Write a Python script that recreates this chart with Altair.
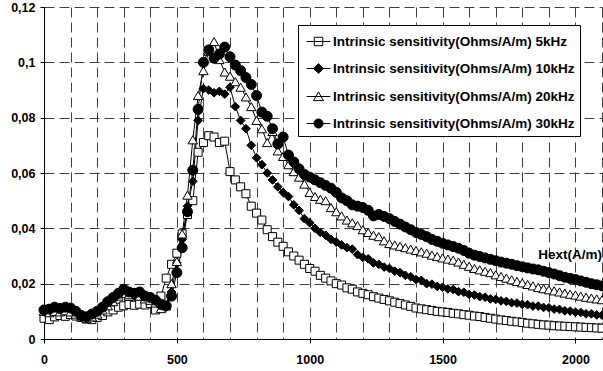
import altair as alt
import pandas as pd

# ---------------- data ----------------
hext = list(range(0, 2101, 20))

series_names = [
    "Intrinsic sensitivity(Ohms/A/m) 5kHz",
    "Intrinsic sensitivity(Ohms/A/m) 10kHz",
    "Intrinsic sensitivity(Ohms/A/m) 20kHz",
    "Intrinsic sensitivity(Ohms/A/m) 30kHz",
]

# values in 1e-3 Ohms/(A/m)
s5 = [
    7.5, 7.0, 8.0, 8.5, 8.2, 8.8, 8.3, 7.8, 7.2, 7.0,
    7.8, 8.5, 9.8, 10.5, 11.5, 12.0, 12.5, 12.2, 12.6, 12.3,
    12.8, 10.5, 15.5, 22.0, 27.0, 31.0, 38.0, 45.0, 50.0, 67.5,
    71.0, 73.5, 73.0, 71.0, 71.5, 60.5, 57.5, 55.0, 52.5, 48.0,
    45.5, 43.0, 39.5, 37.0, 35.0, 33.5, 31.5, 30.0, 28.5, 27.0,
    25.5, 24.5, 23.0, 22.0, 21.0, 20.0, 19.5, 18.5, 18.0, 17.0,
    16.5, 16.0, 15.3, 14.8, 14.3, 13.8, 13.3, 12.8, 12.3, 11.8,
    11.2, 10.9, 10.6, 10.3, 10.0, 9.8, 9.6, 9.3, 9.1, 8.8,
    8.6, 8.3, 8.1, 7.8, 7.5, 7.2, 6.9, 6.7, 6.4, 6.2,
    6.0, 5.7, 5.5, 5.3, 5.1, 5.0, 4.8, 4.7, 4.6, 4.5,
    4.4, 4.3, 4.2, 4.1, 4.0, 3.9,
]
s10 = [
    10.5, 10.0, 11.0, 10.5, 11.2, 10.8, 10.2, 8.8, 8.0, 8.5,
    9.5, 11.0, 13.0, 14.5, 16.0, 17.5, 16.5, 15.5, 16.0, 15.0,
    14.5, 13.5, 12.0, 11.5, 17.0, 27.5, 36.0, 48.0, 57.0, 79.0,
    90.5, 90.0, 89.0, 89.5, 88.5, 91.0, 84.0, 79.0, 76.0, 70.0,
    65.5, 63.0, 60.0, 57.5, 55.0, 53.0, 51.5, 48.5, 46.5, 43.5,
    42.0, 40.0, 38.5, 37.5, 36.0, 35.0, 34.0, 33.0, 32.5, 30.5,
    29.5, 29.0, 27.5, 27.0, 26.0, 25.5, 24.5, 24.0, 23.0, 22.5,
    21.5, 21.2, 20.0, 19.8, 19.0, 18.7, 18.1, 17.9, 17.1, 16.9,
    16.1, 15.9, 15.3, 15.1, 14.5, 14.3, 13.8, 13.6, 13.1, 13.0,
    12.5, 12.4, 11.9, 11.9, 11.4, 11.3, 10.8, 10.7, 10.2, 10.1,
    9.7, 9.6, 9.1, 9.1, 8.7, 8.6,
]
s20 = [
    10.0, 9.5, 10.0, 9.8, 10.2, 9.8, 9.0, 8.0, 7.5, 8.0,
    9.0, 10.5, 12.0, 13.5, 15.5, 16.5, 16.0, 17.0, 15.5, 14.5,
    14.0, 13.0, 11.0, 12.0, 20.0, 28.0, 38.0, 52.0, 72.0, 88.0,
    97.0, 104.0, 107.5, 101.0, 96.5, 95.0, 93.0, 91.0, 87.5, 84.0,
    79.0, 76.0, 71.0, 75.0, 68.0, 66.0, 63.0, 60.5, 58.5, 56.0,
    53.0, 51.5, 50.5, 50.0, 47.5, 46.0, 44.5, 43.0, 42.0, 41.0,
    39.5, 38.5, 37.5, 37.0, 35.5, 34.5, 34.0, 33.5, 33.0, 32.5,
    32.0, 31.5, 31.0, 30.3, 29.8, 29.3, 28.9, 28.5, 27.8, 27.0,
    26.3, 25.5, 25.0, 24.5, 24.0, 23.2, 22.6, 22.0, 21.4, 20.8,
    20.3, 19.7, 19.2, 18.6, 18.2, 17.8, 17.4, 17.0, 16.6, 16.2,
    15.9, 15.5, 15.1, 14.8, 14.5, 14.2,
]
s30 = [
    10.5, 10.8, 11.5, 11.0, 11.5, 11.2, 10.0, 8.5, 8.0, 9.0,
    10.0, 11.5, 13.5, 15.0, 16.5, 18.0, 17.0, 16.5, 17.0, 15.5,
    15.0, 14.0, 12.5, 12.0, 15.5, 24.0, 33.0, 46.0, 61.0, 83.0,
    100.0, 104.5, 101.5, 103.0, 105.5, 102.0, 99.0, 97.0, 94.5, 92.0,
    88.0, 82.0, 80.5, 76.0, 70.5, 73.0, 66.5, 64.0, 61.5, 59.5,
    58.5, 57.5, 56.5, 55.5, 54.5, 53.0, 51.0, 50.0, 48.5, 48.0,
    47.5, 46.5, 44.5, 45.0, 44.3, 43.5, 42.5, 41.5, 40.5, 39.5,
    38.5, 37.8, 37.0, 36.0, 35.3, 34.6, 34.0, 33.4, 32.8, 32.0,
    31.0, 30.3, 29.8, 29.3, 28.8, 28.3, 27.8, 27.4, 27.0, 26.5,
    26.1, 25.7, 25.3, 25.0, 24.5, 24.0, 23.5, 22.9, 22.3, 21.9,
    21.5, 21.0, 20.5, 20.0, 19.6, 19.2,
]

x_ticks = list(range(0, 2101, 100))
y_ticks = [0, 0.02, 0.04, 0.06, 0.08, 0.1, 0.12]
annotation_text = ["Hext(A/m)"]
annotation_x = [2100]
annotation_y = [0.0305]

# ---------------- styles ----------------
marker_shapes = ["square", "diamond", "triangle-up", "circle"]
marker_fills = ["white", "black", "white", "black"]
marker_strokes = ["black", "black", "black", "black"]
marker_sizes = [64, 100, 90, 72]
legend_paths = [
    "M-1.1,0H1.1M-0.39,-0.39H0.39V0.39H-0.39Z",
    "M-1.1,0H1.1M0,-0.45L0.45,0L0,0.45L-0.45,0Z",
    "M-1.1,0H1.1M0,-0.42L0.46,0.38L-0.46,0.38Z",
    "M-1.1,0H1.1M-0.42,0A0.42,0.42,0,1,0,0.42,0A0.42,0.42,0,1,0,-0.42,0Z",
]
FONT = "Liberation Sans"

rows = []
for name, vals in zip(series_names, [s5, s10, s20, s30]):
    for hv, sv in zip(hext, vals):
        rows.append({"H": hv, "S": sv / 1000.0, "series": name})
df = pd.DataFrame(rows)

ann = pd.DataFrame({"t": annotation_text, "H": annotation_x, "S": annotation_y})

x_enc = alt.X(
    "H:Q",
    title=None,
    scale=alt.Scale(domain=[0, 2100], nice=False, zero=False),
    axis=alt.Axis(
        values=x_ticks,
        labelExpr="datum.value % 500 === 0 ? format(datum.value, 'd') : ''",
        tickOpacity={"condition": {"test": "datum.value % 500 === 0", "value": 1}, "value": 0},
        tickSize=4,
        labelPadding=10,
        labelFlush=False,
    ),
)
y_enc = alt.Y(
    "S:Q",
    title=None,
    scale=alt.Scale(domain=[0, 0.12], nice=False),
    axis=alt.Axis(
        values=y_ticks,
        labelExpr="replace(format(datum.value, '.2~f'), '.', ',')",
        tickSize=4,
        labelPadding=5,
    ),
)

lines = alt.Chart(df).mark_line(color="black", strokeWidth=1).encode(
    x=x_enc, y=y_enc, detail="series:N"
)

points = alt.Chart(df).mark_point(filled=True, stroke="black", strokeWidth=1, opacity=1).encode(
    x=x_enc,
    y=y_enc,
    shape=alt.Shape("series:N", scale=alt.Scale(domain=series_names, range=marker_shapes), legend=None),
    fill=alt.Fill("series:N", scale=alt.Scale(domain=series_names, range=marker_fills), legend=None),
    size=alt.Size("series:N", scale=alt.Scale(domain=series_names, range=marker_sizes), legend=None),
)

leg = alt.Legend(
    orient="none",
    legendX=254,
    legendY=18,
    fillColor="white",
    strokeColor="black",
    padding=5,
    rowPadding=9,
    symbolSize=471,
    symbolStrokeWidth=1,
    symbolStrokeColor="black",
    symbolOffset=4,
    labelFont=FONT,
    labelFontWeight="bold",
    labelFontSize=13.5,
    labelColor="black",
    labelLimit=400,
    labelOffset=3,
)

legend_layer = alt.Chart(df).transform_filter("false").mark_point(
    filled=True, strokeWidth=1, size=471, opacity=1
).encode(
    x=x_enc,
    y=y_enc,
    shape=alt.Shape("series:N", title=None, scale=alt.Scale(domain=series_names, range=legend_paths), legend=leg),
    fill=alt.Fill("series:N", title=None, scale=alt.Scale(domain=series_names, range=marker_fills), legend=leg),
    stroke=alt.Stroke("series:N", title=None, scale=alt.Scale(domain=series_names, range=marker_strokes), legend=leg),
)

text = alt.Chart(ann).mark_text(
    align="right", baseline="middle", font=FONT, fontWeight="bold", fontSize=13.5, color="black"
).encode(x=x_enc, y=y_enc, text="t:N")

chart = (
    alt.layer(lines, points, legend_layer, text)
    .resolve_scale(shape="independent", fill="independent", size="independent", stroke="independent")
    .properties(
        width=558,
        height=332,
        padding={"left": 44, "top": 7, "right": 1, "bottom": 32},
        autosize=alt.AutoSizeParams(type="none"),
        background="white",
    )
    .configure_view(stroke=None)
    .configure_axis(
        domainColor="black",
        domainWidth=1,
        tickColor="black",
        tickWidth=1,
        labelFont=FONT,
        labelFontWeight="bold",
        labelFontSize=12.5,
        labelColor="black",
        grid=True,
        gridColor="#404040",
        gridDash=[10, 5],
        gridWidth=1,
    )
)

chart.save("out.html", embed_options={"renderer": "svg", "actions": False})
